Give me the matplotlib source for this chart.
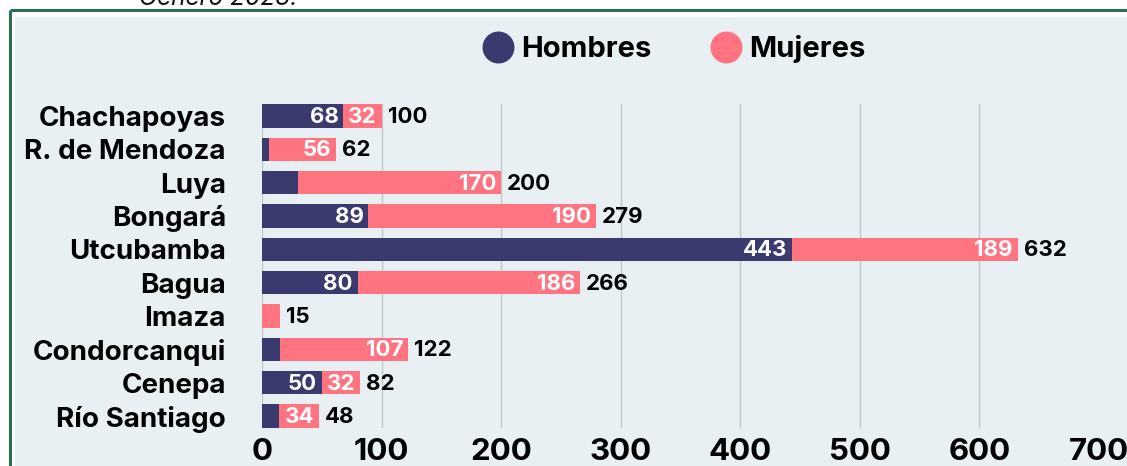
import matplotlib
matplotlib.use("Agg")
import matplotlib.pyplot as plt
from matplotlib.patches import Rectangle
from matplotlib.lines import Line2D

provincias = ["Chachapoyas", "R. de Mendoza", "Luya", "Bongará", "Utcubamba",
              "Bagua", "Imaza", "Condorcanqui", "Cenepa", "Río Santiago"]
hombres = [68, 6, 30, 89, 443, 80, 0, 15, 50, 14]
mujeres = [32, 56, 170, 190, 189, 186, 15, 107, 32, 34]
totales = [100, 62, 200, 279, 632, 266, 15, 122, 82, 48]
xticks = [0, 100, 200, 300, 400, 500, 600, 700]

C_H = "#3b3a6e"
C_M = "#ff7480"
BG = "#e9f0f4"
GREEN = "#2a7050"

plt.rcParams["font.family"] = ["Inter", "DejaVu Sans"]

W, H = 1127, 466
fig = plt.figure(figsize=(W / 100, H / 100), dpi=100)
fig.patch.set_facecolor("white")

# frame and inner background
fig.patches.append(Rectangle((15 / W, 0), 1.2, (H - 17) / H, transform=fig.transFigure,
                             facecolor=BG, edgecolor="none", zorder=-5))
fig.add_artist(Line2D([9.5 / W, 9.5 / W], [0, 1 - 10 / H], transform=fig.transFigure,
                      color=GREEN, lw=2.2, solid_capstyle="butt", zorder=-4))
fig.add_artist(Line2D([9.5 / W, 1.0], [1 - 10 / H, 1 - 10 / H], transform=fig.transFigure,
                      color=GREEN, lw=2.2, solid_capstyle="butt", zorder=-4))

fig.text(218 / W, 1 - 5 / H, "Género 2023.", ha="center", va="baseline",
         fontsize=17.5, style="italic", color="#111111")

top_px, bot_px = 104.3, 427.7
ax = fig.add_axes([262 / W, (H - bot_px) / H, (1099 - 262) / W, (bot_px - top_px) / H])
ax.set_zorder(2)
ax.set_facecolor("none")
y = list(range(len(provincias)))
bh = 0.7
ax.barh(y, hombres, height=bh, color=C_H, zorder=3)
ax.barh(y, mujeres, left=hombres, height=bh, color=C_M, zorder=3)

ax.set_xlim(0, 700)
ax.set_ylim(len(provincias) - 1 + 0.35, -0.35)
ax.set_xticks(xticks)
ax.set_xticklabels([str(t) for t in xticks], fontsize=22.5, fontweight="bold")
ax.set_yticks(y)
ax.set_yticklabels(provincias, fontsize=20, fontweight="bold")
ax.tick_params(axis="both", length=0)
ax.tick_params(axis="y", pad=26)
ax.tick_params(axis="x", pad=7.5)
for s in ax.spines.values():
    s.set_visible(False)
ax.grid(axis="x", color="#c2c7cb", lw=1.0, zorder=1)
ax.set_axisbelow(True)
ax.get_xgridlines()[-1].set_visible(False)

for i in y:
    h, m, t = hombres[i], mujeres[i], totales[i]
    if h > 31:
        ax.text(h - 4, i + 0.03, str(h), ha="right", va="center", color="white",
                fontsize=16, fontweight="bold", zorder=4)
    if m > 31:
        ax.text(h + m - 4, i + 0.03, str(m), ha="right", va="center", color="white",
                fontsize=16, fontweight="bold", zorder=4)
    ax.text(t + 5, i + 0.03, str(t), ha="left", va="center", color="black",
            fontsize=16, fontweight="bold", zorder=4)

handles = [Line2D([], [], marker="o", ls="none", markersize=22, color=C_H),
           Line2D([], [], marker="o", ls="none", markersize=22, color=C_M)]
fig.legend(handles, ["Hombres", "Mujeres"], loc="center", bbox_to_anchor=(674 / W, 1 - 49 / H),
           ncol=2, frameon=False, prop={"weight": "bold", "size": 21},
           handletextpad=0.25, columnspacing=2.0, handlelength=1.1)

fig.savefig("out.png", dpi=100, facecolor="white")
